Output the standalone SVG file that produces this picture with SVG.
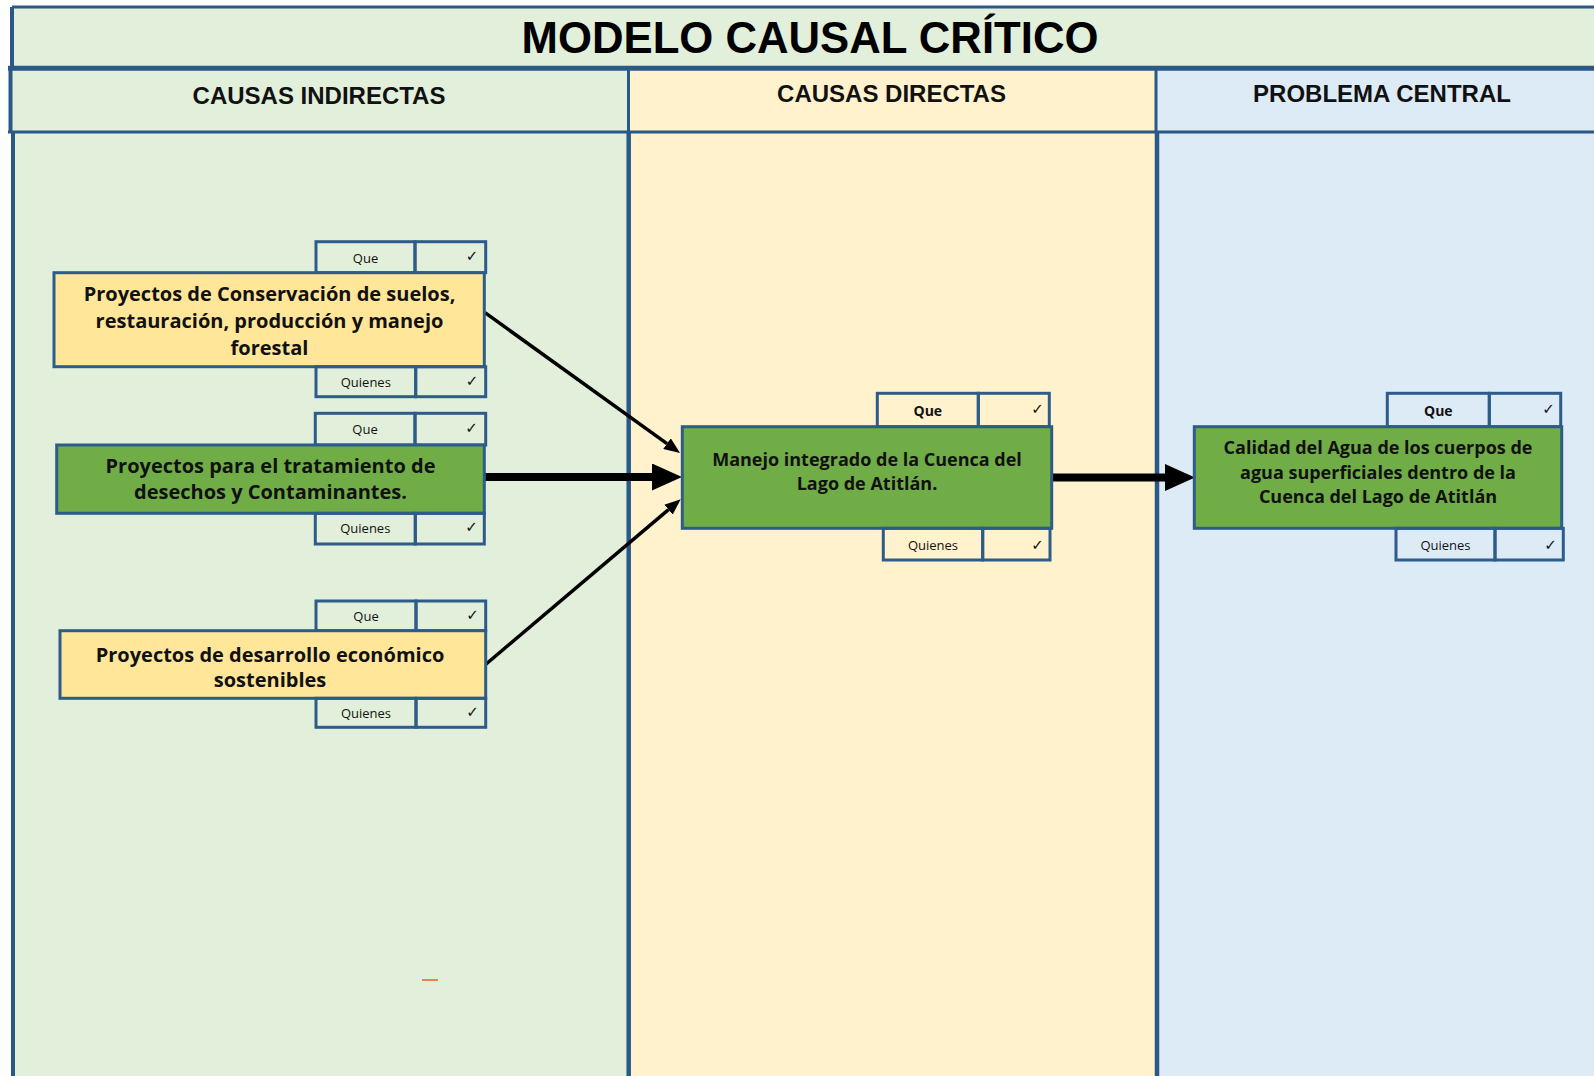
<svg xmlns="http://www.w3.org/2000/svg" width="1594" height="1076" viewBox="0 0 1594 1076">
<style>
.ln{stroke:#2B5987;fill:none}
.nodeY{fill:#FFE699;stroke:#2E5C8A;stroke-width:3}
.nodeG{fill:#70AD47;stroke:#2E5C8A;stroke-width:3}
.tag{fill:none;stroke:#2E5C8A;stroke-width:3}
.title{font-family:"Liberation Sans",Arial,sans-serif;font-weight:700;font-size:43.7px;text-anchor:middle;fill:#000}
.head{font-family:"Liberation Sans",Arial,sans-serif;font-weight:700;font-size:24px;text-anchor:middle;fill:#111}
.lbl{font-family:"Open Sans","Noto Sans",sans-serif;font-weight:700;font-size:20px;text-anchor:middle;fill:#111}
.lblS{font-family:"Open Sans","Noto Sans",sans-serif;font-weight:700;font-size:18px;text-anchor:middle;fill:#111}
.tq{font-family:"Open Sans","Noto Sans",sans-serif;font-size:13px;text-anchor:middle;fill:#111}
.tqb{font-family:"Open Sans","Noto Sans",sans-serif;font-weight:700;font-size:14px;text-anchor:middle;fill:#111}
.chk{font-family:"DejaVu Sans",sans-serif;font-size:15px;text-anchor:middle;fill:#111}
.thin{stroke:#000;stroke-width:3.5;fill:none}
.thick{stroke:#000;stroke-width:8;fill:none}
</style>
<defs>
<marker id="headS" markerUnits="userSpaceOnUse" markerWidth="16" markerHeight="13" refX="0" refY="6.5" orient="auto"><path d="M0,0 L16,6.5 L0,13 z" fill="#000"/></marker>
<marker id="headL" markerUnits="userSpaceOnUse" markerWidth="30" markerHeight="27" refX="0" refY="13.5" orient="auto"><path d="M0,0 L30,13.5 L0,27 z" fill="#000"/></marker>
</defs>
<rect x="0" y="0" width="1594" height="1076" fill="#FFFFFF"/>
<g id="frame">
<rect x="12" y="7" width="1600" height="61" fill="#E2EFDA"/>
<rect x="10.5" y="68" width="618" height="64" fill="#E2EFDA"/>
<rect x="628.5" y="68" width="527.5" height="64" fill="#FFF2CC"/>
<rect x="1156" y="68" width="460" height="64" fill="#DDEBF7"/>
<rect x="13" y="132" width="615.7" height="960" fill="#E2EFDA"/>
<rect x="628.7" y="132" width="528.3" height="960" fill="#FFF2CC"/>
<rect x="1157" y="132" width="460" height="960" fill="#DDEBF7"/>
<path class="ln" stroke-width="3" d="M12,7 H1600"/>
<path class="ln" stroke-width="4" d="M12,7 V68"/>
<path class="ln" stroke-width="5" d="M8,68.3 H1600"/>
<path class="ln" stroke-width="4" d="M10.5,68 V132"/>
<path class="ln" stroke-width="3" d="M8,132 H1600"/>
<path class="ln" stroke-width="4" d="M13,132 V1080"/>
<path class="ln" stroke-width="3" d="M628.5,68 V132"/>
<path class="ln" stroke-width="3" d="M1156,68 V132"/>
<path class="ln" stroke-width="4.5" d="M628.7,132 V1080"/>
<path class="ln" stroke-width="4.5" d="M1157,132 V1080"/>
<text class="title" x="810" y="53">MODELO CAUSAL CRÍTICO</text>
<text class="head" x="319" y="104">CAUSAS INDIRECTAS</text>
<text class="head" x="891.5" y="102">CAUSAS DIRECTAS</text>
<text class="head" x="1382" y="102">PROBLEMA CENTRAL</text>
<path d="M422,980 H438" stroke="#E08850" stroke-width="2"/>
</g>
<g id="connectors">
<path class="thin" d="M485,312.7 L667,443.6" marker-end="url(#headS)"/>
<path class="thick" d="M484,477 L652,477" marker-end="url(#headL)"/>
<path class="thin" d="M485,665 L668.5,509.6" marker-end="url(#headS)"/>
<path class="thick" d="M1051,477.5 L1165,477.5" marker-end="url(#headL)"/>
</g>
<g id="node-conservacion">
<rect class="tag" x="316" y="241.7" width="99" height="31"/>
<rect class="tag" x="415" y="241.7" width="70.7" height="31"/>
<rect class="nodeY" x="54" y="272.7" width="430.3" height="94"/>
<rect class="tag" x="316" y="366.7" width="99.7" height="30"/>
<rect class="tag" x="415.7" y="366.7" width="70" height="30"/>
<text class="tq" x="365.5" y="262.5">Que</text>
<text class="chk" x="472" y="261">✓</text>
<text class="lbl" x="269.5" y="300.7">Proyectos de Conservación de suelos,</text>
<text class="lbl" x="269.5" y="327.5">restauración, producción y manejo</text>
<text class="lbl" x="269.5" y="354.5">forestal</text>
<text class="tq" x="365.8" y="387">Quienes</text>
<text class="chk" x="472" y="386">✓</text>
</g>
<g id="node-tratamiento">
<rect class="tag" x="315.3" y="413.3" width="99.7" height="31.7"/>
<rect class="tag" x="415" y="413.3" width="70.7" height="31.7"/>
<rect class="nodeG" x="56.7" y="445" width="427.6" height="68.3"/>
<rect class="tag" x="315.3" y="513.3" width="100" height="30.7"/>
<rect class="tag" x="415.3" y="513.3" width="69" height="30.7"/>
<text class="tq" x="365" y="434">Que</text>
<text class="chk" x="471.5" y="433">✓</text>
<text class="lbl" x="270.5" y="473.3">Proyectos para el tratamiento de</text>
<text class="lbl" x="270.5" y="499.3">desechos y Contaminantes.</text>
<text class="tq" x="365.3" y="533">Quienes</text>
<text class="chk" x="471.5" y="532">✓</text>
</g>
<g id="node-desarrollo">
<rect class="tag" x="316" y="601" width="100" height="29.7"/>
<rect class="tag" x="416" y="601" width="69.7" height="29.7"/>
<rect class="nodeY" x="60" y="630.7" width="425.7" height="67.6"/>
<rect class="tag" x="316" y="698.3" width="100" height="29"/>
<rect class="tag" x="416" y="698.3" width="69.7" height="29"/>
<text class="tq" x="366" y="621">Que</text>
<text class="chk" x="472.5" y="620">✓</text>
<text class="lbl" x="270" y="661.7">Proyectos de desarrollo económico</text>
<text class="lbl" x="270" y="687">sostenibles</text>
<text class="tq" x="366" y="718">Quienes</text>
<text class="chk" x="472.5" y="717">✓</text>
</g>
<g id="node-manejo">
<rect class="tag" x="877.3" y="393.3" width="101" height="33.4"/>
<rect class="tag" x="978.3" y="393.3" width="71" height="33.4"/>
<rect class="nodeG" x="682.3" y="426.7" width="369.4" height="101.6"/>
<rect class="tag" x="883.3" y="528.3" width="99.4" height="31.7"/>
<rect class="tag" x="982.7" y="528.3" width="67.3" height="31.7"/>
<text class="tqb" x="927.8" y="415.5">Que</text>
<text class="chk" x="1037.5" y="414">✓</text>
<text class="lblS" x="867" y="466">Manejo integrado de la Cuenca del</text>
<text class="lblS" x="867" y="490">Lago de Atitlán.</text>
<text class="tq" x="933" y="550">Quienes</text>
<text class="chk" x="1037.5" y="549.5">✓</text>
</g>
<g id="node-calidad">
<rect class="tag" x="1387.3" y="393.3" width="102" height="33.4"/>
<rect class="tag" x="1489.3" y="393.3" width="71.4" height="33.4"/>
<rect class="nodeG" x="1194.3" y="426.7" width="367.4" height="101.6"/>
<rect class="tag" x="1396" y="528.3" width="99" height="31.7"/>
<rect class="tag" x="1495" y="528.3" width="68.3" height="31.7"/>
<text class="tqb" x="1438.3" y="415.5">Que</text>
<text class="chk" x="1548.5" y="414">✓</text>
<text class="lblS" x="1378" y="454">Calidad del Agua de los cuerpos de</text>
<text class="lblS" x="1378" y="478.5">agua superficiales dentro de la</text>
<text class="lblS" x="1378" y="503">Cuenca del Lago de Atitlán</text>
<text class="tq" x="1445.5" y="550">Quienes</text>
<text class="chk" x="1550.5" y="549.5">✓</text>
</g>
</svg>
